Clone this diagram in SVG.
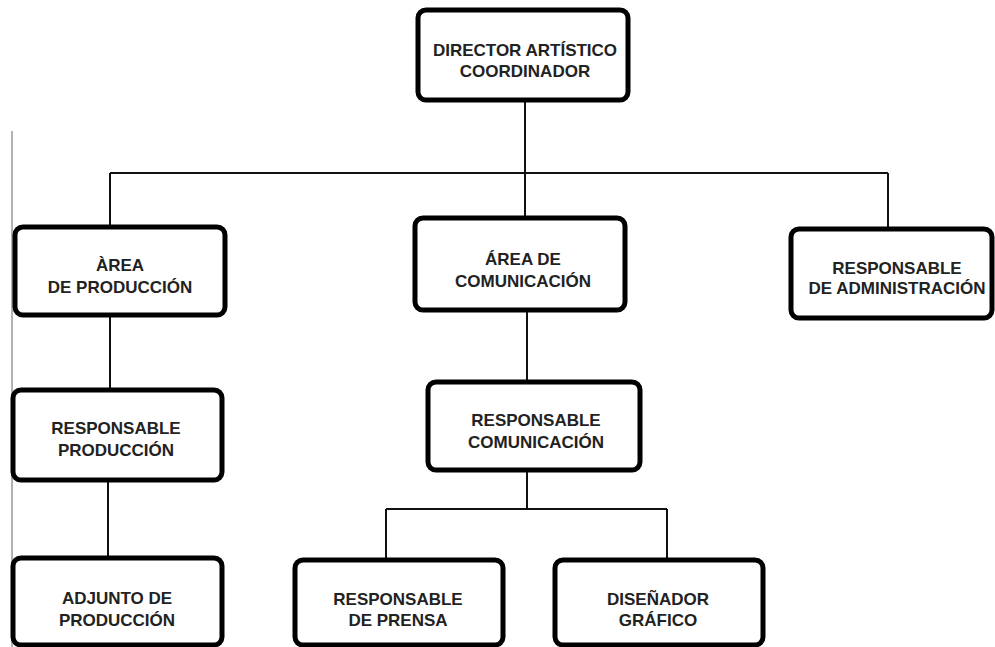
<svg xmlns="http://www.w3.org/2000/svg" width="995" height="647" viewBox="0 0 995 647">
<style>
.box{fill:#fff;stroke:#000;stroke-width:5}
.t{font-family:"Liberation Sans",Arial,sans-serif;font-weight:bold;font-size:17px;fill:#222;text-anchor:middle}
.c{fill:none;stroke:#111;stroke-width:2}
</style>
<rect width="995" height="647" fill="#fff"/>
<line x1="12" y1="131" x2="12" y2="647" stroke="#999" stroke-width="1.5"/>
<g id="connectors">
<path class="c" d="M525 100V173M110 173H888M110 173V227M525 173V218M888 173V228"/>
<path class="c" d="M110 315V390M108 480V558"/>
<path class="c" d="M527 310V382M527 470V509M386 509H667M386 509V560M667 509V560"/>
</g>
<g id="director"><rect class="box" x="418" y="10" width="210" height="90" rx="8"/><text class="t" x="525" y="56">DIRECTOR ARTÍSTICO</text><text class="t" x="525" y="77">COORDINADOR</text></g>
<g id="area-produccion"><rect class="box" x="15" y="227" width="210" height="88" rx="8"/><text class="t" x="120" y="271">ÀREA</text><text class="t" x="120" y="293">DE PRODUCCIÓN</text></g>
<g id="area-comunicacion"><rect class="box" x="415" y="218" width="210" height="92" rx="8"/><text class="t" x="523" y="265">ÁREA DE</text><text class="t" x="523" y="287">COMUNICACIÓN</text></g>
<g id="resp-administracion"><rect class="box" x="791" y="229" width="201" height="89" rx="8"/><text class="t" x="897" y="274">RESPONSABLE</text><text class="t" x="897" y="294">DE ADMINISTRACIÓN</text></g>
<g id="resp-produccion"><rect class="box" x="13" y="390" width="209" height="90" rx="8"/><text class="t" x="116" y="434">RESPONSABLE</text><text class="t" x="116" y="456">PRODUCCIÓN</text></g>
<g id="adjunto-produccion"><rect class="box" x="13" y="558" width="209" height="87" rx="8"/><text class="t" x="117" y="604">ADJUNTO DE</text><text class="t" x="117" y="626">PRODUCCIÓN</text></g>
<g id="resp-comunicacion"><rect class="box" x="428" y="382" width="212" height="88" rx="8"/><text class="t" x="536" y="426">RESPONSABLE</text><text class="t" x="536" y="448">COMUNICACIÓN</text></g>
<g id="resp-prensa"><rect class="box" x="295" y="560" width="208" height="85" rx="8"/><text class="t" x="398" y="605">RESPONSABLE</text><text class="t" x="398" y="626">DE PRENSA</text></g>
<g id="disenador"><rect class="box" x="555" y="560" width="208" height="85" rx="8"/><text class="t" x="658" y="605">DISEÑADOR</text><text class="t" x="658" y="626">GRÁFICO</text></g>
</svg>
